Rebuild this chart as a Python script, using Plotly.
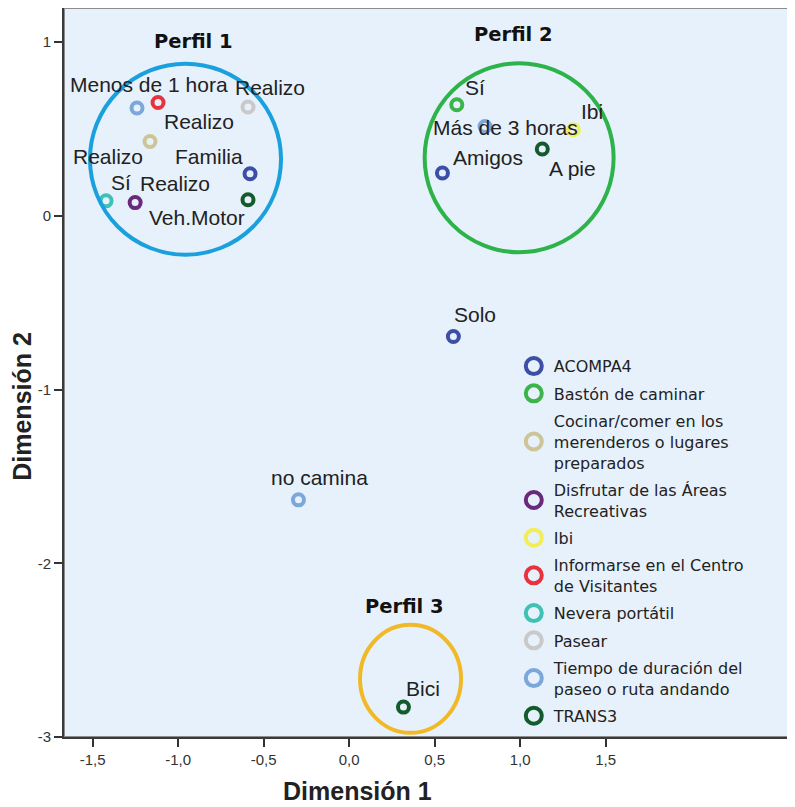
import plotly.graph_objects as go

# legend categories (order as in the legend)
categories = [
    "ACOMPA4",
    "Bastón de caminar",
    "Cocinar/comer en los<br>merenderos o lugares<br>preparados",
    "Disfrutar de las Áreas<br>Recreativas",
    "Ibi",
    "Informarse en el Centro<br>de Visitantes",
    "Nevera portátil",
    "Pasear",
    "Tiempo de duración del<br>paseo o ruta andando",
    "TRANS3",
]
cat_colors = ["#3d4ea6", "#3bb54a", "#cdc595", "#6a2a7c", "#f2ee5a",
              "#e8333d", "#3fc1b5", "#c9c9c9", "#7ba7db", "#155a2c"]

# category points (index into categories), label, dimension 1, dimension 2
point_cat = [0, 0, 0, 1, 2, 3, 4, 5, 6, 7, 8, 8, 8, 9, 9, 9]
point_label = ["Familia", "Amigos", "Solo", "Sí", "Realizo", "Realizo", "Ibi",
               "Realizo", "Sí", "Realizo", "Menos de 1 hora", "Más de 3 horas",
               "no camina", "Veh.Motor", "A pie", "Bici"]
dim1 = [-0.579, 0.546, 0.610, 0.630, -1.164, -1.251, 1.312, -1.117, -1.421,
        -0.591, -1.240, 0.795, -0.296, -0.591, 1.130, 0.318]
dim2 = [0.242, 0.246, -0.695, 0.639, 0.428, 0.076, 0.495, 0.652, 0.086,
        0.626, 0.620, 0.514, -1.635, 0.092, 0.384, -2.828]

# profile circles: name, x0, x1, y0, y1, title position
perfil_names = ["Perfil 1", "Perfil 2", "Perfil 3"]
perfil_x = [(-1.515, -0.398), (0.442, 1.547), (0.064, 0.655)]
perfil_y = [(-0.224, 0.875), (-0.210, 0.878), (-2.976, -2.354)]
perfil_title_xy = [(-0.912, 1.001), (0.959, 1.042), (0.322, -2.250)]
perfil_colors = ["#1aa0dd", "#2db34a", "#f1b928"]

x_ticks = [-1.5, -1.0, -0.5, 0.0, 0.5, 1.0, 1.5]
x_ticktext = ["-1,5", "-1,0", "-0,5", "0,0", "0,5", "1,0", "1,5"]
y_ticks = [1, 0, -1, -2, -3]
y_ticktext = ["1", "0", "-1", "-2", "-3"]

# label offsets in pixels (dx right, dy down)
label_shift = [(-41, -17), (46, -16), (22, -22), (18, -17), (-42, 15), (40, -19),
               (19, -18), (41, 19), (15, -18), (22, -20), (12, -24), (20, 1),
               (21, -22), (-51, 18), (30, 19), (20, -19)]

lab_font = dict(family="Liberation Sans, Arial, sans-serif", size=21, color="#222")
title_font = dict(family="Liberation Sans, Arial", size=25, color="#222", weight="bold")

fig = go.Figure()

for i, cat in enumerate(categories):
    idx = [k for k, c in enumerate(point_cat) if c == i]
    fig.add_trace(go.Scatter(
        x=[dim1[k] for k in idx], y=[dim2[k] for k in idx],
        mode="markers", showlegend=False, legendgroup=str(i),
        marker=dict(symbol="circle-open", size=11, color=cat_colors[i],
                    line=dict(width=4)),
        hoverinfo="skip"))
    # legend entry
    fig.add_trace(go.Scatter(
        x=[None], y=[None], mode="markers", name=cat, legendgroup=str(i),
        marker=dict(symbol="circle-open", size=16, color=cat_colors[i],
                    line=dict(width=4))))

for k, lab in enumerate(point_label):
    dx, dy = label_shift[k]
    fig.add_annotation(x=dim1[k], y=dim2[k], text=lab, showarrow=False,
                       xshift=dx, yshift=-dy, font=lab_font,
                       xanchor="center", yanchor="middle")

for j, nm in enumerate(perfil_names):
    fig.add_shape(type="circle", xref="x", yref="y",
                  x0=perfil_x[j][0], x1=perfil_x[j][1],
                  y0=perfil_y[j][0], y1=perfil_y[j][1],
                  line=dict(color=perfil_colors[j], width=4))
    fig.add_annotation(x=perfil_title_xy[j][0], y=perfil_title_xy[j][1], text=nm,
                       showarrow=False, xanchor="center", yanchor="middle",
                       font=dict(family="DejaVu Sans", size=19.5, color="#111",
                                 weight="bold"))

# frame (top/right lighter)
fig.add_shape(type="rect", xref="paper", yref="paper", x0=0, x1=1, y0=0, y1=1,
              line=dict(color="#8c8c8c", width=2), layer="below")

# axis titles
fig.add_annotation(xref="paper", yref="paper", x=0.403, y=-0.074,
                   text="Dimensión 1", showarrow=False, font=title_font,
                   xanchor="center", yanchor="middle")
fig.add_annotation(xref="paper", yref="paper", x=-0.0576, y=0.453,
                   text="Dimensión 2", showarrow=False, font=title_font,
                   textangle=-90, xanchor="center", yanchor="middle")

fig.update_layout(
    width=787, height=799,
    margin=dict(l=56, r=2, t=0, b=70),
    paper_bgcolor="white",
    plot_bgcolor="#e7f1fb",
    legend=dict(x=0.617, y=0.532, xanchor="left", yanchor="top",
                bgcolor="rgba(0,0,0,0)", tracegroupgap=3.5, itemwidth=30,
                font=dict(family="DejaVu Sans", size=16, color="#222")),
)
fig.update_xaxes(range=[-1.667, 2.596], tickvals=x_ticks, ticktext=x_ticktext,
                 showgrid=False, zeroline=False, showline=True,
                 linecolor="#3a3a3a", linewidth=2, ticks="outside", ticklen=8,
                 tickwidth=2, tickcolor="#333",
                 tickfont=dict(family="Liberation Sans, Arial", size=15, color="#333"))
fig.update_yaxes(range=[-3, 1.196], tickvals=y_ticks, ticktext=y_ticktext,
                 showgrid=False, zeroline=False, showline=True,
                 linecolor="#3a3a3a", linewidth=2, ticks="outside", ticklen=8,
                 tickwidth=2, tickcolor="#333",
                 tickfont=dict(family="Liberation Sans, Arial", size=15, color="#333"))

fig.write_html("out.html")
